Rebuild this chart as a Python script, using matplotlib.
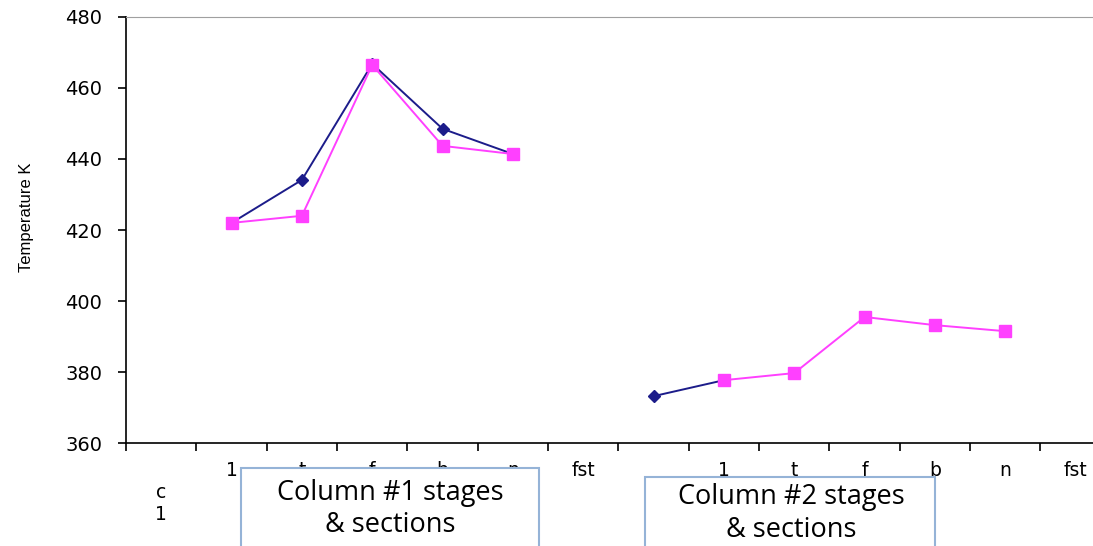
import numpy as np
import matplotlib.pyplot as plt
import matplotlib.patches as mpatches

nan = np.nan

# category labels (two columns of stages/sections)
labels = ['\nc\n1', '1', 't', 'f', 'b', 'n', 'fst', '', '1', 't', 'f', 'b', 'n', 'fst']

# temperatures in K
temp_blue = [nan, 422.0, 434.1, 466.8, 448.5, 441.4, nan, 373.2, 377.7, nan, nan, nan, nan, nan]
temp_pink = [nan, 422.0, 424.0, 466.5, 443.7, 441.4, nan, nan, 377.7, 379.7, 395.5, 393.2, 391.5, nan]

blue = '#1c1c8a'
pink = '#ff40ff'

fig = plt.figure(figsize=(10.93, 5.46), dpi=100)
ax = fig.add_axes([0.1153, 0.1886, 0.901, 0.7803])

x = np.arange(len(labels))
ax.plot(x, temp_blue, color=blue, lw=1.4, marker='D', ms=6, zorder=3)
ax.plot(x, temp_pink, color=pink, lw=1.4, marker='s', ms=8, zorder=4)

ax.set_xlim(-0.5, len(labels) - 0.5)
ax.set_ylim(360, 480)
ax.set_yticks(np.arange(360, 481, 20))

# ticks on the category boundaries, labels on the centres
ax.set_xticks(np.arange(-0.5, len(labels), 1))
ax.set_xticklabels([])
ax.set_xticks(x, minor=True)
ax.set_xticklabels(labels, minor=True, fontsize=13.5, family='DejaVu Sans')
ax.tick_params(axis='x', which='major', direction='out', length=6, width=1.2)
ax.tick_params(axis='x', which='minor', length=0, pad=13)
ax.tick_params(axis='y', direction='out', length=6, width=1.2, pad=11)
for t in ax.get_yticklabels():
    t.set_fontsize(14)
    t.set_family('DejaVu Sans')

ax.spines['right'].set_visible(False)
ax.spines['top'].set_color('#a0a0a0')
ax.spines['top'].set_linewidth(0.8)
ax.spines['left'].set_linewidth(1.2)
ax.spines['bottom'].set_linewidth(1.2)

fig.text(0.024, 0.6026, 'Temperature K', rotation=90, ha='center', va='center',
         fontsize=12, family='Liberation Sans')

# text boxes under the axis
box_col = '#95b3d7'
fig.patches.append(mpatches.Rectangle((0.2205, -0.05), 0.2726, 0.1929, transform=fig.transFigure,
                                      facecolor='white', edgecolor=box_col, lw=1.5, zorder=5))
fig.patches.append(mpatches.Rectangle((0.5901, -0.05), 0.2653, 0.1764, transform=fig.transFigure,
                                      facecolor='white', edgecolor=box_col, lw=1.5, zorder=5))
fig.text(0.3568, 0.0678, 'Column #1 stages\n& sections', ha='center', va='center',
         fontsize=19.5, family='Open Sans', linespacing=1.22, zorder=6)
fig.text(0.7237, 0.06, 'Column #2 stages\n& sections', ha='center', va='center',
         fontsize=19.5, family='Open Sans', linespacing=1.22, zorder=6)

fig.savefig('out.png', dpi=100)
